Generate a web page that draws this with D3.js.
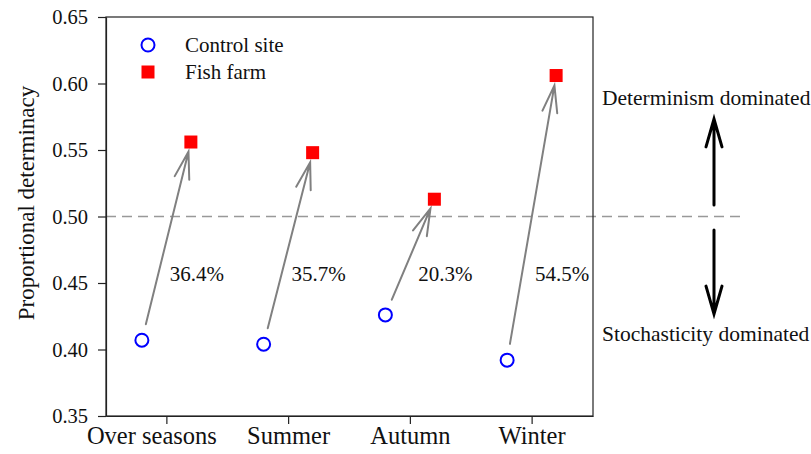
<!DOCTYPE html>
<html>
<head>
<meta charset="utf-8">
<script src="https://cdn.jsdelivr.net/npm/d3@7"></script>
<style>
  html, body { margin: 0; padding: 0; background: #fff; }
  svg { display: block; font-family: "Liberation Serif", "Times New Roman", serif; }
</style>
</head>
<body>
<svg id="chart" width="811" height="454"></svg>
<script>
// ---- data ----
const categories = ["Over seasons", "Summer", "Autumn", "Winter"];
const controlSite = [0.407, 0.404, 0.426, 0.392];
const fishFarm = [0.556, 0.548, 0.513, 0.606];
const pctLabels = ["36.4%", "35.7%", "20.3%", "54.5%"];
const yTicks = [0.35, 0.40, 0.45, 0.50, 0.55, 0.60, 0.65];
const threshold = 0.5;
const legendItems = ["Control site", "Fish farm"];
const sideLabels = ["Determinism dominated", "Stochasticity dominated"];

// ---- layout ----
const svg = d3.select("#chart");
const L = 106, R = 593, T = 17, B = 416;
const x = d3.scaleBand().domain(categories).range([L, R]);
const y = d3.scaleLinear().domain([0.35, 0.65]).range([B, T]);
const cx = c => x(c) + x.bandwidth() / 2;
const circOff = -25, sqOff = 24;
const grey = "#808080";
const serif = "Liberation Serif, Times New Roman, serif";

// dashed reference line (extends past plot)
svg.append("line")
  .attr("x1", L).attr("x2", 742)
  .attr("y1", y(threshold)).attr("y2", y(threshold))
  .attr("stroke", "#999").attr("stroke-width", 1.3)
  .attr("stroke-dasharray", "10,6");

// frame
svg.append("rect").attr("x", L).attr("y", T).attr("width", R - L).attr("height", B - T)
  .attr("fill", "none").attr("stroke", "#222").attr("stroke-width", 1.2);

// axes
const yAxis = svg.append("g").attr("transform", `translate(${L},0)`)
  .call(d3.axisLeft(y).tickValues(yTicks).tickFormat(d3.format(".2f")).tickSize(8).tickSizeOuter(0).tickPadding(10));
yAxis.attr("font-family", serif);
yAxis.selectAll("text").attr("font-size", 20.5).attr("fill", "#111");
yAxis.selectAll("line, path").attr("stroke", "#222").attr("stroke-width", 1.2);

const xAxis = svg.append("g").attr("transform", `translate(0,${B})`)
  .call(d3.axisBottom(x).tickSize(8).tickSizeOuter(0).tickPadding(1));
xAxis.attr("font-family", serif);
xAxis.selectAll("text").attr("font-size", 24.5).attr("fill", "#111").attr("dy", "0.78em")
  .attr("dx", d => d === "Over seasons" ? -15 : 0);
xAxis.selectAll("line, path").attr("stroke", "#222").attr("stroke-width", 1.2);

// y title
svg.append("text")
  .attr("transform", `translate(34,203) rotate(-90)`)
  .attr("text-anchor", "middle")
  .attr("font-size", 23).attr("fill", "#111")
  .text("Proportional determinacy");

// arrow helper
function arrow(g, x1, y1, x2, y2, s0, s1, head, ang, color, w) {
  const dx = x2 - x1, dy = y2 - y1, len = Math.hypot(dx, dy);
  const ux = dx / len, uy = dy / len;
  const sx = x1 + ux * s0, sy = y1 + uy * s0;
  const ex = x2 - ux * s1, ey = y2 - uy * s1;
  const a = Math.atan2(-uy, -ux);
  const h1x = ex + head * Math.cos(a + ang), h1y = ey + head * Math.sin(a + ang);
  const h2x = ex + head * Math.cos(a - ang), h2y = ey + head * Math.sin(a - ang);
  g.append("path")
    .attr("d", `M${sx},${sy}L${ex},${ey}M${h1x},${h1y}L${ex},${ey}L${h2x},${h2y}`)
    .attr("fill", "none").attr("stroke", color).attr("stroke-width", w)
    .attr("stroke-linecap", "round").attr("stroke-linejoin", "miter");
}

// grey arrows between points
const arrows = svg.append("g");
categories.forEach((c, i) => {
  arrow(arrows, cx(c) + circOff, y(controlSite[i]), cx(c) + sqOff, y(fishFarm[i]),
        16.5, 10, 28, 15.5 * Math.PI / 180, grey, 2);
});

// percentage labels
svg.append("g").selectAll("text").data(pctLabels).join("text")
  .attr("x", (d, i) => cx(categories[i]) + (i === 2 ? 35 : 30))
  .attr("y", 281)
  .attr("text-anchor", "middle")
  .attr("font-size", 21).attr("fill", "#111")
  .text(d => d);

// control site circles
svg.append("g").selectAll("circle").data(controlSite).join("circle")
  .attr("cx", (d, i) => cx(categories[i]) + circOff)
  .attr("cy", d => y(d))
  .attr("r", 6.5)
  .attr("fill", "#fff").attr("stroke", "#0000ff").attr("stroke-width", 2);

// fish farm squares
const sq = 13;
svg.append("g").selectAll("rect").data(fishFarm).join("rect")
  .attr("x", (d, i) => cx(categories[i]) + sqOff - sq / 2)
  .attr("y", d => y(d) - sq / 2)
  .attr("width", sq).attr("height", sq)
  .attr("fill", "#ff0000");

// legend
const lg = svg.append("g");
lg.append("circle").attr("cx", 148).attr("cy", 45).attr("r", 6.5)
  .attr("fill", "#fff").attr("stroke", "#0000ff").attr("stroke-width", 2);
lg.append("rect").attr("x", 148 - sq / 2).attr("y", 72 - sq / 2).attr("width", sq).attr("height", sq)
  .attr("fill", "#ff0000");
lg.selectAll("text").data(legendItems).join("text")
  .attr("x", 185).attr("y", (d, i) => 45 + i * 27 + 7)
  .attr("font-size", 21).attr("fill", "#111")
  .text(d => d);

// side annotations
svg.append("text").attr("x", 602).attr("y", 105).attr("font-size", 21.5).attr("fill", "#111").text(sideLabels[0]);
svg.append("text").attr("x", 602).attr("y", 341).attr("font-size", 21.5).attr("fill", "#111").text(sideLabels[1]);
const side = svg.append("g");
arrow(side, 714, 205, 714, 119, 0, 0, 29, 16 * Math.PI / 180, "#000", 3);
arrow(side, 714, 230, 714, 314, 0, 0, 29, 16 * Math.PI / 180, "#000", 3);
</script>
</body>
</html>
